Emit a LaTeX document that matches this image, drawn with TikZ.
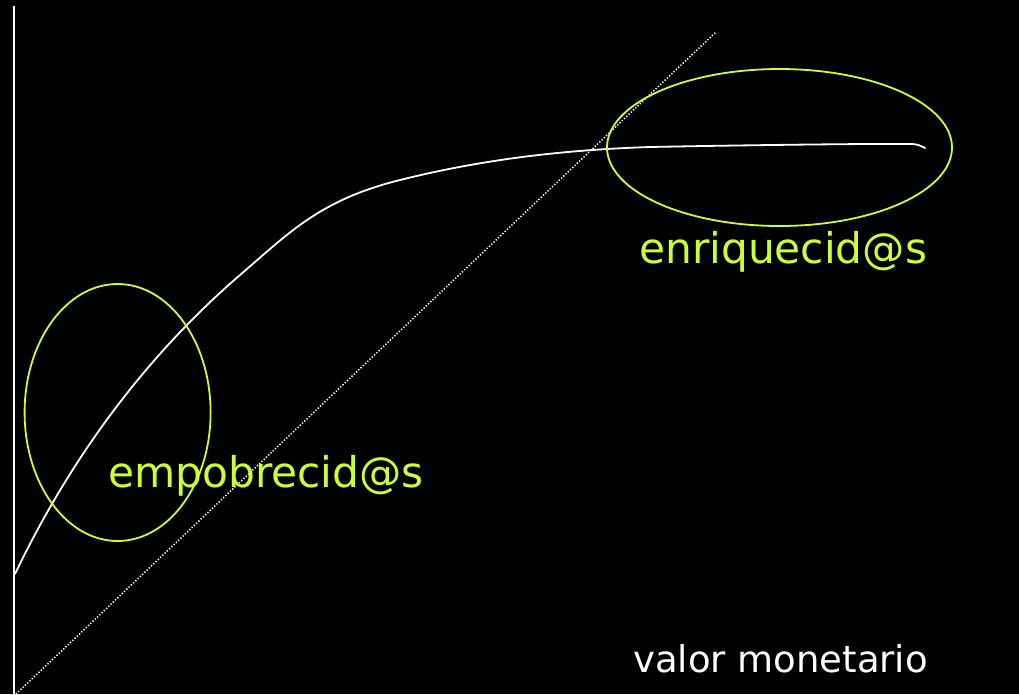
\documentclass[tikz,border=0pt]{standalone}
\usepackage{fontspec}
\setmainfont{DejaVu Sans}
\usetikzlibrary{shapes.geometric}
\definecolor{lime}{RGB}{204,255,51}
\tikzset{
  ring/.style={draw=lime, line width=1.8pt, ellipse, inner sep=0pt},
  greenlabel/.style={text=lime, font=\fontsize{42.3}{50}\selectfont, anchor=base west, inner sep=0pt},
  whitelabel/.style={text=white, font=\fontsize{37}{44}\selectfont, anchor=base west, inner sep=0pt},
  curveline/.style={draw=white, line width=1.8pt, line cap=round},
  diag/.style={draw=white, line width=1.5pt, dash pattern=on 1.3pt off 1.8pt}
}
\begin{document}
\begin{tikzpicture}[x=1pt, y=-1pt]
\fill[black] (0,0) rectangle (1019,694);
\useasboundingbox (0,0) rectangle (1019,694);
% axis
\coordinate (axtop) at (14,6);
\coordinate (axbot) at (14,694);
\draw[white, line width=1.8pt] (axtop) -- (axbot);
% diagonal dotted line
\coordinate (dstart) at (16,694);
\coordinate (dend) at (716,32);
\draw[diag] (dstart) -- (dend);
% curve
\coordinate (c0) at (15,574);
\coordinate (c1) at (240,275);
\coordinate (c2) at (400,180);
\coordinate (c3) at (650,147);
\coordinate (c4) at (912,144);
\coordinate (c5) at (925,148);
\draw[curveline] (c0) .. controls (60,480) and (130,370) .. (c1)
  .. controls (290,232) and (320,200) .. (c2)
  .. controls (480,160) and (560,150) .. (c3)
  .. controls (750,145) and (880,143.5) .. (c4)
  .. controls (918,144.3) and (921,146) .. (c5);
% ellipses
\node[ring, minimum width=186pt, minimum height=257pt] (poor) at (117.6,412.5) {};
\node[ring, minimum width=345pt, minimum height=157pt] (rich) at (779.5,147.5) {};
% labels
\node[greenlabel] (lpoor) at (108,487) {empobrecid@s};
\node[greenlabel] (lrich) at (639,263) {enriquecid@s};
\node[whitelabel] (lval) at (633,672) {valor monetario};
\end{tikzpicture}
\end{document}
